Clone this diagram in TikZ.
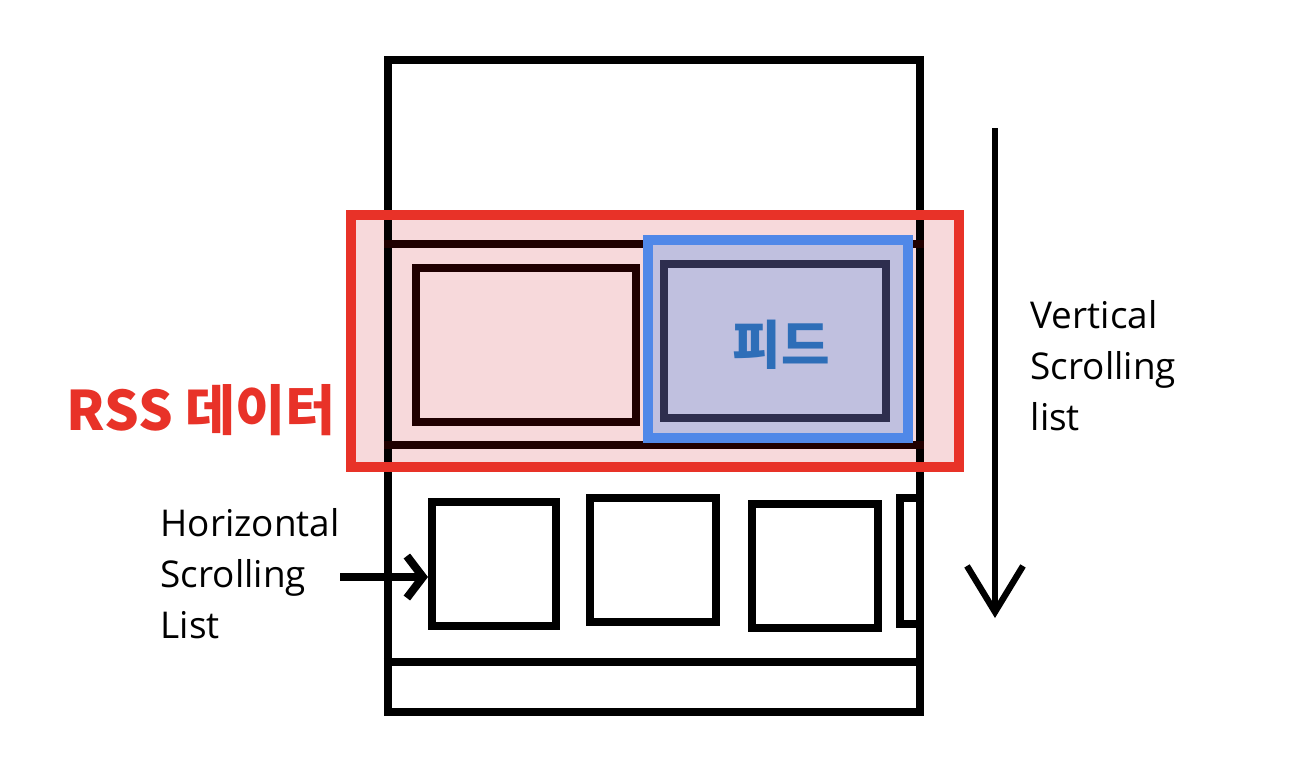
\documentclass[tikz,border=0pt]{standalone}
\usepackage{fontspec}
\setmainfont{Open Sans}
\newfontfamily\krfont{Noto Sans CJK KR}
\usepackage{xcolor}
\definecolor{rss-red}{HTML}{E83228}
\definecolor{rss-pink}{HTML}{F7D9DB}
\definecolor{feed-blue}{HTML}{5088E8}
\definecolor{feed-fill}{HTML}{C0C0DF}
\definecolor{feed-ink}{HTML}{2E2E4E}
\definecolor{feed-text}{HTML}{2E6EB8}
\definecolor{row-ink}{HTML}{200000}
\usetikzlibrary{arrows.meta,positioning}
\tikzset{
    box/.style ={rectangle, draw, line width=2.3pt, inner sep=0pt},
    rowline/.style = {row-ink, line width=2.3pt},
    label/.style = {align=left, inner sep=0pt, font=\fontsize{10.5}{14.5}\selectfont},
    scroll/.style = {line width=1.8pt, -{Straight Barb[length=4.6mm,width=5.6mm]}}
}
\begin{document}
\begin{tikzpicture}
      \useasboundingbox (0,0) rectangle (12.98,-7.78);

      % pink band behind the row
      \node[rectangle, fill=rss-pink, minimum width=6.06cm, minimum height=2.5cm] (rss) at (6.55,-3.41) {};

      \node[box, minimum width=5.32cm, minimum height=6.52cm] (phone) at (6.54,-3.86) {};
      \draw[box] (phone.west |- 0,-6.62) -- (phone.east |- 0,-6.62);

      \draw[rowline] (phone.west |- 0,-2.44) -- (phone.east |- 0,-2.44);
      \draw[rowline] (phone.west |- 0,-4.45) -- (phone.east |- 0,-4.45);

      \node[box, row-ink, minimum width=2.2cm, minimum height=1.54cm] (card) at (5.26,-3.45) {};
      \node[box, draw=feed-blue, fill=feed-fill, line width=2.8pt, minimum width=2.6cm, minimum height=1.98cm] (feedbg) at (7.78,-3.39) {};
      \node[box, feed-ink, minimum width=2.22cm, minimum height=1.54cm] (feed) at (7.75,-3.41) {};
      \node[feed-text, font=\krfont\bfseries\fontsize{15}{18}\selectfont] (feedtext) at (7.81,-3.45) {피드};

      \draw[rss-red, line width=2.8pt] (rss.south west) rectangle (rss.north east);
      \node[rss-red, anchor=base west, inner sep=0pt, font=\krfont\bfseries\fontsize{15.5}{19}\selectfont] (rsstext) at (0.66,-4.30) {RSS 데이터};

      % horizontal list
      \node[box, minimum width=1.24cm, minimum height=1.24cm] (item1) at (4.94,-5.64) {};
      \node[box, minimum width=1.26cm, minimum height=1.24cm] (item2) at (6.53,-5.60) {};
      \node[box, minimum width=1.26cm, minimum height=1.24cm] (item3) at (8.15,-5.66) {};
      \coordinate (item4a) at (phone.east |- 0,-4.98);
      \coordinate (item4b) at (phone.east |- 0,-6.24);
      \draw[box] (item4a) -- (9.0,-4.98) -- (9.0,-6.24) -- (item4b);

      \node[label, anchor=base west] (hlabel) at (1.60,-6.38) {Horizontal\\Scrolling\\List};
      \coordinate (harrow) at (3.40,-5.77);
      \draw[line width=2.3pt, -{Straight Barb[length=1.6mm,width=4.2mm]}] (harrow) -- (item1.west |- harrow);

      \node[label, anchor=base west] (vlabel) at (10.30,-4.30) {Vertical\\Scrolling\\list};
      \coordinate (vtop) at (9.95,-1.28);
      \coordinate (vbot) at (9.95,-6.18);
      \draw[scroll] (vtop) -- (vbot);
    \end{tikzpicture}
\end{document}
